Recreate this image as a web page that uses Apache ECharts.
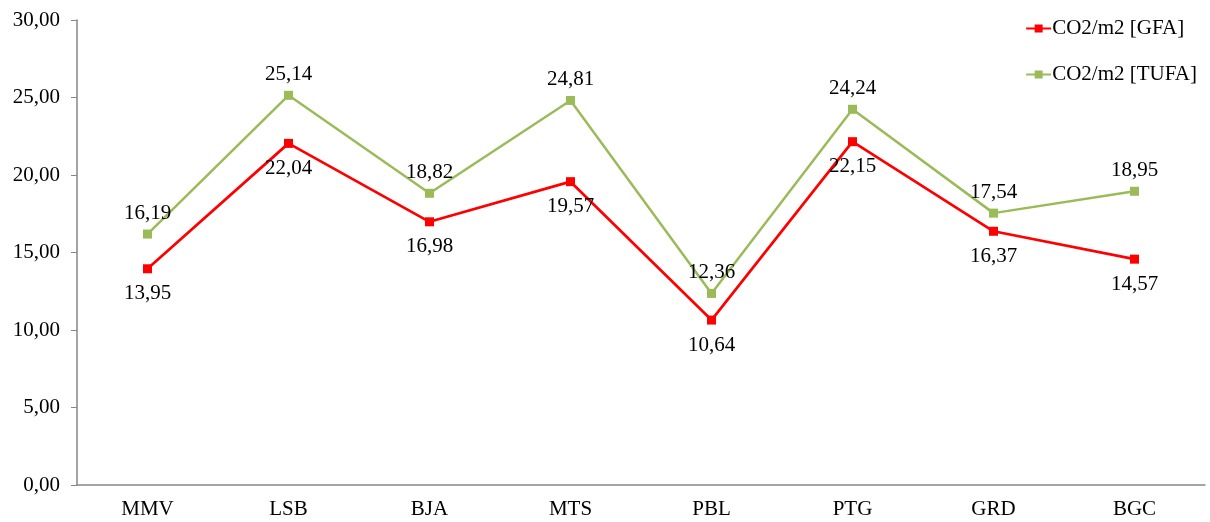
<!DOCTYPE html>
<html>
<head>
<meta charset="utf-8">
<script src="https://cdn.jsdelivr.net/npm/echarts@6/dist/echarts.min.js"></script>
<style>
  html, body { margin: 0; padding: 0; background: #fff; }
  #chart { width: 1210px; height: 522px; }
</style>
</head>
<body>
<div id="chart"></div>
<script>
// Sites along the category axis
const categories = ['MMV', 'LSB', 'BJA', 'MTS', 'PBL', 'PTG', 'GRD', 'BGC'];
// CO2 per square metre, gross floor area
const gfaValues = [13.95, 22.04, 16.98, 19.57, 10.64, 22.15, 16.37, 14.57];
// CO2 per square metre, total usable floor area
const tufaValues = [16.19, 25.14, 18.82, 24.81, 12.36, 24.24, 17.54, 18.95];
const seriesNames = ['CO2/m2 [GFA]', 'CO2/m2 [TUFA]'];

const fmt = v => v.toFixed(2).replace('.', ',');
const font = '"Liberation Serif", "Times New Roman", serif';

const chart = echarts.init(document.getElementById('chart'));
chart.setOption({
  animation: false,
  backgroundColor: '#ffffff',
  textStyle: { fontFamily: font },
  grid: { left: 77, right: 5, top: 20, bottom: 37, containLabel: false },
  legend: {
    orient: 'vertical',
    right: 8,
    top: 13,
    itemWidth: 25,
    itemHeight: 10,
    itemGap: 25,
    textStyle: { fontFamily: font, fontSize: 21, color: '#000', padding: [0, 0, 0, -4] },
    data: seriesNames
  },
  xAxis: {
    type: 'category',
    data: categories,
    boundaryGap: true,
    axisLine: { lineStyle: { color: '#868686', width: 1.5 } },
    axisTick: { alignWithLabel: true, length: 4, lineStyle: { color: '#c8c8c8' } },
    axisLabel: { color: '#000', fontFamily: font, fontSize: 21, margin: 14 }
  },
  yAxis: {
    type: 'value',
    min: 0,
    max: 30,
    interval: 5,
    splitLine: { show: false },
    axisLine: { show: true, lineStyle: { color: '#868686', width: 1.5 } },
    axisTick: { show: true, length: 6, lineStyle: { color: '#868686' } },
    axisLabel: { color: '#000', fontFamily: font, fontSize: 21, margin: 17, formatter: fmt }
  },
  series: [
    {
      name: seriesNames[0],
      type: 'line',
      data: gfaValues,
      color: '#ff0000',
      symbol: 'rect',
      symbolSize: 9,
      lineStyle: { color: '#ff0000', width: 2.7 },
      itemStyle: { color: '#ff0000' },
      label: {
        show: true, position: 'bottom', distance: 10,
        color: '#000', fontFamily: font, fontSize: 21,
        formatter: p => fmt(p.value)
      },
      z: 3
    },
    {
      name: seriesNames[1],
      type: 'line',
      data: tufaValues,
      color: '#9bbb59',
      symbol: 'rect',
      symbolSize: 9,
      lineStyle: { color: '#9bbb59', width: 2.5 },
      itemStyle: { color: '#9bbb59' },
      label: {
        show: true, position: 'top', distance: 6,
        color: '#000', fontFamily: font, fontSize: 21,
        formatter: p => fmt(p.value)
      },
      z: 2
    }
  ]
});
</script>
</body>
</html>
